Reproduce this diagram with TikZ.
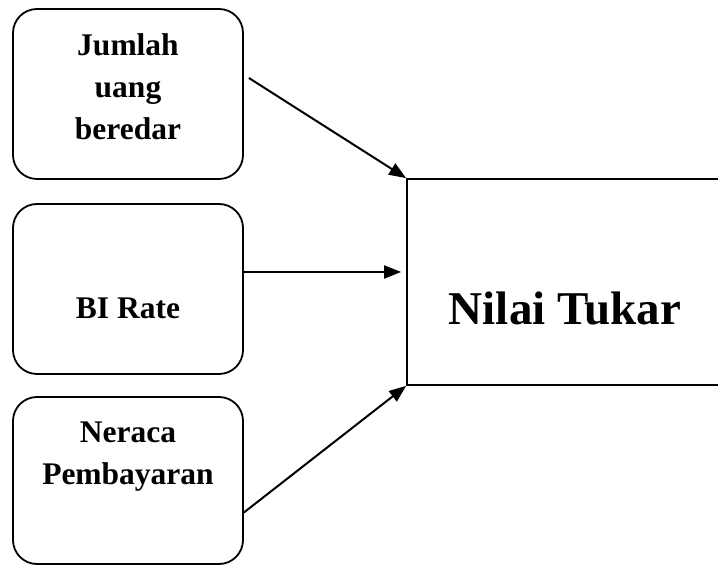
\documentclass[tikz,border=0pt]{standalone}
\usepackage{fontspec}
\setmainfont{Liberation Serif}
\usetikzlibrary{calc,arrows.meta}
\tikzset{
  srcbox/.style={draw, line width=1.8pt, rounded corners=24pt, minimum width=230pt, minimum height=170pt, inner sep=0pt},
  lbl/.style={font=\bfseries\fontsize{31.5}{42}\selectfont, align=center, inner sep=0pt, anchor=north},
  arr/.style={line width=2pt, -{Triangle[length=17pt,width=13pt]}}
}

\begin{document}
\begin{tikzpicture}[x=1pt,y=1pt]
\useasboundingbox (0,0) rectangle (718,565);
\clip (0,0) rectangle (718,565);
\node [srcbox] (jub) at (128,471) {};
\node [srcbox] (bir) at (128,276) {};
\node [srcbox, minimum height=167pt] (nrc) at (128,84.5) {};
\node [draw, line width=1.8pt, minimum width=323pt, minimum height=206pt, inner sep=0pt] (nt) at (568.5,283) {};
\node [lbl] at ($(jub.north)+(0,-25)$) {Jumlah\\uang\\beredar};
\node [lbl] at ($(bir.north)+(0,-95)$) {BI Rate};
\node [lbl] at ($(nrc.north)+(0,-26)$) {Neraca\\Pembayaran};
\node [font=\bfseries\fontsize{47}{56}\selectfont, inner sep=0pt, anchor=base] at (565,240) {Nilai Tukar};
\draw [arr] ($(jub.east)+(5,16)$) -- (nt.north west);
\draw [arr] ($(bir.east)+(0,17)$) coordinate (b2) -- ($(b2 -| nt.west)+(-5,0)$);
\draw [arr] ($(nrc.east)+(0,-32)$) -- (nt.south west);
\end{tikzpicture}
\end{document}
